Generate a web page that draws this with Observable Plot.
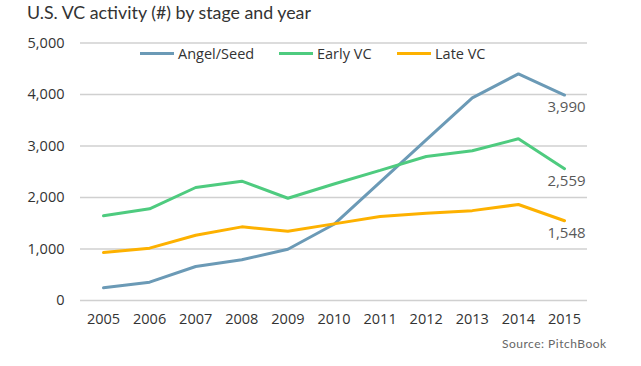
<!DOCTYPE html>
<html>
<head>
<meta charset="utf-8">
<script src="https://cdn.jsdelivr.net/npm/d3@7"></script>
<script src="https://cdn.jsdelivr.net/npm/@observablehq/plot@0.6"></script>
<style>
  html, body { margin: 0; padding: 0; background: #fff; }
  #wrap { position: relative; width: 641px; height: 366px; overflow: hidden; }
  #wrap svg { position: absolute; left: 0; top: 0; }
  .title { position: absolute; left: 27px; top: 1px; font-family: "Lato", sans-serif; font-size: 17.8px; color: #333; white-space: nowrap; }
  .source { position: absolute; left: 502px; top: 336px; font-family: "Lato", sans-serif; font-size: 12px; color: #666; white-space: nowrap; letter-spacing: 0.5px; }
  .leg { position: absolute; top: 44px; font-family: "Open Sans", sans-serif; font-size: 14.5px; color: #333; white-space: nowrap; display: flex; align-items: center; }
  .leg span.sw { display: inline-block; width: 34px; height: 3px; margin-right: 4px; }
</style>
</head>
<body>
<div id="wrap"></div>
<script>
const years = [2005, 2006, 2007, 2008, 2009, 2010, 2011, 2012, 2013, 2014, 2015];
const angelSeed = [246, 356, 660, 790, 996, 1480, 2300, 3120, 3936, 4400, 3990];
const earlyVC = [1644, 1780, 2194, 2317, 1985, 2262, 2526, 2796, 2907, 3140, 2559];
const lateVC = [932, 1016, 1268, 1430, 1346, 1488, 1631, 1696, 1745, 1864, 1548];
const seriesNames = ["Angel/Seed", "Early VC", "Late VC"];
const seriesColors = ["#6b9ab6", "#4ecb7f", "#fdb100"];
const yTicks = [0, 1000, 2000, 3000, 4000, 5000];
const endLabels = ["3,990", "2,559", "1,548"];

const seriesValues = [angelSeed, earlyVC, lateVC];
const data = [];
seriesNames.forEach((s, i) => years.forEach((y, j) => data.push({series: s, year: y, value: seriesValues[i][j]})));
const lastPts = seriesNames.map((s, i) => ({series: s, year: years[years.length - 1], value: seriesValues[i][years.length - 1], label: endLabels[i]}));

const axisFont = "'Open Sans', sans-serif";

const chart = Plot.plot({
  width: 641,
  height: 366,
  marginLeft: 103,
  marginRight: 77,
  marginTop: 42.5,
  marginBottom: 66,
  style: {fontFamily: axisFont, fontSize: "14.5px", color: "#333", background: "transparent"},
  x: {domain: [2005, 2015], axis: null, label: null},
  y: {domain: [0, 5000], axis: null, label: null},
  color: {domain: seriesNames, range: seriesColors},
  marks: [
    Plot.ruleY(yTicks, {stroke: "#d0d0d0", strokeWidth: 1.6, insetLeft: -23, insetRight: -23}),
    Plot.axisY(yTicks, {label: null, tickSize: 0, tickPadding: 39, tickFormat: d3.format(","), fontSize: 14.5, fill: "#333"}),
    Plot.axisX(years, {label: null, tickSize: 0, tickPadding: 13, tickFormat: d => String(d), fontSize: 14.5, fill: "#333"}),
    Plot.line(data, {x: "year", y: "value", z: "series", stroke: "series", strokeWidth: 3, strokeLinejoin: "miter"}),
    Plot.text(lastPts, {x: "year", y: "value", text: "label", dy: 12, dx: 2, fill: "#595959", fontSize: 15, fontFamily: axisFont})
  ]
});

const wrap = document.getElementById("wrap");
wrap.appendChild(chart);

const title = document.createElement("div");
title.className = "title";
title.textContent = "U.S. VC activity (#) by stage and year";
wrap.appendChild(title);

const legX = [140, 279, 397];
seriesNames.forEach((s, i) => {
  const d = document.createElement("div");
  d.className = "leg";
  d.style.left = legX[i] + "px";
  const sw = document.createElement("span");
  sw.className = "sw";
  sw.style.background = seriesColors[i];
  d.appendChild(sw);
  d.appendChild(document.createTextNode(s));
  wrap.appendChild(d);
});

const src = document.createElement("div");
src.className = "source";
src.textContent = "Source: PitchBook";
wrap.appendChild(src);
</script>
</body>
</html>
